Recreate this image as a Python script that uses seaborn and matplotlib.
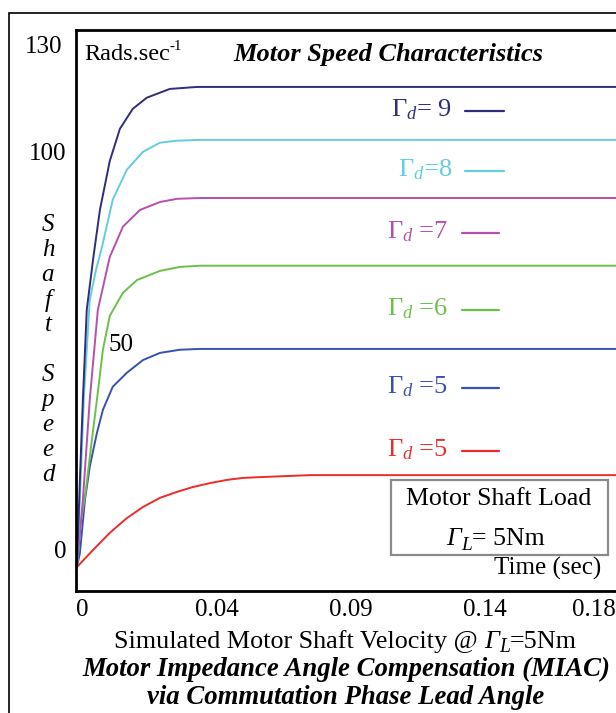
import numpy as np
import pandas as pd
import matplotlib
matplotlib.use("Agg")
import matplotlib.pyplot as plt
import seaborn as sns
from matplotlib.lines import Line2D
from matplotlib.patches import Rectangle
from matplotlib.text import Annotation
from matplotlib.transforms import ScaledTranslation

# Curves: time (sec) and shaft speed (rad/s)
t_navy = [0, 0.0010, 0.0020, 0.0033, 0.0054, 0.0077, 0.0110, 0.0144, 0.0187, 0.0234, 0.0311, 0.0402, 0.19]
v_navy = [-4.3, 17.6, 37.7, 60.3, 72.9, 85.4, 97.7, 105.8, 110.8, 113.6, 115.8, 116.3, 116.3]

t_cyan = [0, 0.0010, 0.0023, 0.0043, 0.0064, 0.0084, 0.0120, 0.0167, 0.0221, 0.0278, 0.0335, 0.0412, 0.19]
v_cyan = [-4.3, 12.6, 37.7, 62.8, 70.4, 76.1, 88.0, 95.5, 100.0, 102.3, 102.8, 103.0, 103.0]

t_mag = [0, 0.0020, 0.0043, 0.0070, 0.0110, 0.0154, 0.0211, 0.0278, 0.0335, 0.0412, 0.19]
v_mag = [-4.3, 12.6, 37.7, 60.3, 73.6, 81.2, 85.4, 87.4, 88.2, 88.4, 88.4]

t_green = [0, 0.0013, 0.0030, 0.0050, 0.0067, 0.0087, 0.0110, 0.0154, 0.0201, 0.0278, 0.0345, 0.0412, 0.19]
v_green = [-4.3, 6.8, 15.1, 27.6, 37.7, 50.3, 58.8, 64.6, 67.8, 70.1, 71.1, 71.4, 71.4]

t_blue = [0, 0.0010, 0.0027, 0.0043, 0.0067, 0.0087, 0.0120, 0.0167, 0.0221, 0.0278, 0.0345, 0.0412, 0.19]
v_blue = [-4.3, -0.8, 12.6, 20.9, 29.4, 35.2, 41.0, 44.5, 47.7, 49.5, 50.3, 50.5, 50.5]

t_red = [0, 0.0054, 0.0110, 0.0167, 0.0221, 0.0278, 0.0335, 0.0388, 0.0445, 0.0502, 0.0555, 0.0612, 0.0780, 0.19]
v_red = [-4.3, 0.0, 4.3, 8.0, 10.8, 13.1, 14.6, 15.8, 16.8, 17.6, 18.1, 18.3, 18.8, 18.8]

series = ["red5", "blue5", "green6", "mag7", "cyan8", "navy9"]
colors = ["#ee2b2b", "#3752ae", "#6cc04a", "#b84fab", "#63cddb", "#2e2d7e"]
legend_labels = [r"$\Gamma_d$ =5", r"$\Gamma_d$ =5", r"$\Gamma_d$ =6",
                 r"$\Gamma_d$ =7", r"$\Gamma_d$=8", r"$\Gamma_d$= 9"]

x_ticks = [0, 0.045, 0.09, 0.135, 0.1713]
x_ticklabels = ["0", "0.04", "0.09", "0.14", "0.18"]

frames = []
for name, t, v in zip(series,
                      [t_red, t_blue, t_green, t_mag, t_cyan, t_navy],
                      [v_red, v_blue, v_green, v_mag, v_cyan, v_navy]):
    frames.append(pd.DataFrame({"t": t, "speed": v, "series": name}))
df = pd.concat(frames, ignore_index=True)

sns.set_theme(style="white")
plt.rcParams["font.family"] = ["Liberation Serif", "DejaVu Serif"]
plt.rcParams["mathtext.fontset"] = "custom"
plt.rcParams["mathtext.rm"] = "Liberation Serif"
plt.rcParams["mathtext.it"] = "Liberation Serif:italic"
plt.rcParams["mathtext.bf"] = "Liberation Serif:bold"
for key in ["text.color", "axes.labelcolor", "xtick.color", "ytick.color"]:
    plt.rcParams[key] = "black"

W, H = 616, 713
fig = plt.figure(figsize=(W / 100, H / 100), dpi=100)
ax = fig.add_axes([76 / W, 1 - 591 / H, (625 - 76) / W, (591 - 30) / H])

sns.lineplot(data=df, x="t", y="speed", hue="series", hue_order=series,
             palette=colors, legend=False, estimator=None, sort=False,
             linewidth=1.4, ax=ax)

ax.set_xlim(-0.0003, 0.1834)
ax.set_ylim(-10.3, 130.6)
for s in ax.spines.values():
    s.set_linewidth(2.0)
    s.set_color("black")

ax.set_xticks(x_ticks)
ax.set_xticklabels(x_ticklabels, fontsize=18)
ax.set_yticks([0, 50, 100])
ax.set_yticklabels(["0", "", "100"], fontsize=18)
ax.tick_params(axis="both", direction="in", length=14, width=2.0, color="black")
ax.tick_params(axis="x", pad=6)
ax.tick_params(axis="y", pad=7)
ax.xaxis.get_major_ticks()[-1].tick1line.set_visible(False)
ax.xaxis.get_major_ticks()[0].tick1line.set_visible(False)
for lab in ax.get_xticklabels():
    lab.set_transform(lab.get_transform() + ScaledTranslation(0.05, 0, fig.dpi_scale_trans))
ax.set_xlabel("")
ax.set_ylabel("")


def fx(px):
    return px / W


def fy(py):
    return 1 - py / H


def chain(x_px, base_py, parts, size):
    # parts: (text, style, weight, scale, dy in points); placed one after another
    txt, style, weight, scale, dy = parts[0]
    base = fig.text(fx(x_px), fy(base_py), txt, fontsize=size * scale, fontstyle=style,
                    fontweight=weight, ha="left", va="baseline", zorder=5)
    prev = base
    for txt, style, weight, scale, dy in parts[1:]:
        prev = Annotation(txt, xy=(1, 0), xycoords=(prev, base), xytext=(0, dy),
                          textcoords="offset points", fontsize=size * scale,
                          fontstyle=style, fontweight=weight, ha="left", va="bottom",
                          annotation_clip=False, zorder=5)
        fig.add_artist(prev)
    return base


# extra tick labels
fig.text(fx(121), fy(345), "50", fontsize=18, ha="center", va="center")
fig.text(fx(44), fy(47), "130", fontsize=18, ha="center", va="center")
chain(84, 60, [("Rads.sec", "normal", "normal", 1.0, 0),
               ("-1", "normal", "normal", 0.62, 9)], 17.5)
fig.text(fx(388), fy(55), "Motor Speed Characteristics", fontsize=19,
         fontweight="bold", fontstyle="italic", ha="center", va="center")

# vertical axis title, letter by letter
for i, ch in enumerate("Shaft"):
    fig.text(fx(48), fy(225 + 25 * i), ch, fontsize=18, fontstyle="italic", ha="center", va="center")
for i, ch in enumerate("Speed"):
    fig.text(fx(48), fy(375 + 25 * i), ch, fontsize=18, fontstyle="italic", ha="center", va="center")

# legend entries next to the curves
leg_y = [450, 387, 309, 232, 170, 110]
leg_txt_right = [448, 448, 448, 448, 452, 452]
leg_line = [(462, 499), (462, 499), (462, 499), (462, 499), (465, 504), (465, 504)]
for lab, c, y, xr, (l0, l1) in zip(legend_labels, colors, leg_y, leg_txt_right, leg_line):
    fig.text(fx(xr), fy(y), lab, color=c, fontsize=19, ha="right", va="center")
    fig.add_artist(Line2D([fx(l0), fx(l1)], [fy(y + 1), fy(y + 1)], color=c,
                          linewidth=1.6, transform=fig.transFigure))

# load box
fig.add_artist(Rectangle((fx(391), fy(555)), (608 - 391) / W, 75 / H,
                         transform=fig.transFigure, facecolor="white",
                         edgecolor="#8a8a8a", linewidth=1.6, zorder=2))
fig.text(fx(499), fy(499), "Motor Shaft Load", fontsize=18.6, ha="center", va="center", zorder=5)
chain(446, 545, [("Γ", "italic", "normal", 1.0, 0),
                 ("L", "italic", "normal", 0.75, -3),
                 ("= 5Nm", "normal", "normal", 1.0, 0)], 18.6)
fig.text(fx(548), fy(568), "Time (sec)", fontsize=18, ha="center", va="center")

# captions
chain(114, 648, [("Simulated Motor Shaft Velocity @ ", "normal", "normal", 1.0, 0),
                 ("Γ", "italic", "normal", 1.0, 0),
                 ("L", "italic", "normal", 0.75, -3),
                 ("=5Nm", "normal", "normal", 1.0, 0)], 18.8)
fig.text(fx(346), fy(669), "Motor Impedance Angle Compensation (MIAC)", fontsize=19.3,
         fontweight="bold", fontstyle="italic", ha="center", va="center")
fig.text(fx(346), fy(698), "via Commutation Phase Lead Angle", fontsize=19.3,
         fontweight="bold", fontstyle="italic", ha="center", va="center")

# outer frame of the figure panel
fig.add_artist(Rectangle((fx(9), -0.1), 1.0, fy(13) + 0.1, transform=fig.transFigure,
                         fill=False, edgecolor="black", linewidth=1.2))

fig.savefig("out.png", dpi=100)
